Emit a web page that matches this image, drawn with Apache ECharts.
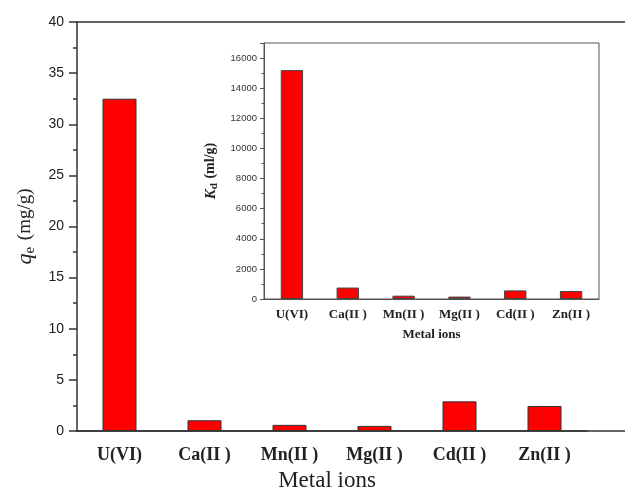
<!DOCTYPE html>
<html>
<head>
<meta charset="utf-8">
<script src="https://cdn.jsdelivr.net/npm/echarts@6/dist/echarts.min.js"></script>
<style>html,body{margin:0;padding:0;background:#fff;}#c{width:625px;height:495px;}</style>
</head>
<body>
<div id="c"></div>
<script>
const categories = ['U(VI)', 'Ca(II )', 'Mn(II )', 'Mg(II )', 'Cd(II )', 'Zn(II )'];
const qeValues = [32.5, 1.05, 0.6, 0.5, 2.9, 2.45];
const kdValues = [15200, 760, 220, 160, 570, 530];
const qeTicks = { min: 0, max: 40, interval: 5 };
const kdTicks = { min: 0, max: 17000, interval: 2000 };

const serif = 'Liberation Serif';
const sans = 'Liberation Sans';
const frameLine = { show: true, onZero: false, lineStyle: { color: '#333', width: 1.5 } };
const chart = echarts.init(document.getElementById('c'), null, { renderer: 'canvas' });
chart.setOption({
  animation: false,
  backgroundColor: '#fff',
  title: {
    text: 'Metal ions',
    left: 322, top: 476, textAlign: 'center', textVerticalAlign: 'middle',
    textStyle: { fontFamily: serif, fontWeight: 'normal', fontSize: 23, color: '#222' }
  },
  grid: [
    { left: 77, top: 22, right: 38, bottom: 64, show: false },
    { left: 264, top: 43, right: 26, bottom: 196, show: true, borderColor: '#555', borderWidth: 1 },
    { left: 77, top: 22, right: 0, bottom: 64, show: false }
  ],
  xAxis: [
    {
      type: 'category', gridIndex: 0, data: categories,
      axisLine: { lineStyle: { color: '#333', width: 1.5 } },
      axisTick: { alignWithLabel: true, length: 7, lineStyle: { color: '#333', width: 1.5 } },
      axisLabel: { fontFamily: serif, fontWeight: 'bold', fontSize: 18, color: '#222', margin: 15 },
      splitLine: { show: false }
    },
    {
      type: 'category', gridIndex: 1, data: categories,
      name: 'Metal ions', nameLocation: 'middle', nameGap: 29,
      nameTextStyle: { fontFamily: serif, fontWeight: 'bold', fontSize: 13, color: '#222' },
      axisLine: { lineStyle: { color: '#555', width: 1 } },
      axisTick: { alignWithLabel: true, length: 4, lineStyle: { color: '#555' } },
      axisLabel: { fontFamily: serif, fontWeight: 'bold', fontSize: 13, color: '#222', margin: 9 },
      splitLine: { show: false }
    },
    { type: 'value', gridIndex: 2, position: 'top', axisLine: frameLine, axisTick: { show: false }, axisLabel: { show: false }, splitLine: { show: false } },
    { type: 'value', gridIndex: 2, position: 'bottom', axisLine: frameLine, axisTick: { show: false }, axisLabel: { show: false }, splitLine: { show: false } }
  ],
  yAxis: [
    {
      type: 'value', gridIndex: 0, min: qeTicks.min, max: qeTicks.max, interval: qeTicks.interval,
      name: '{q|q}{e|e} (mg/g)', nameLocation: 'middle', nameRotate: 90, nameGap: 30,
      nameTextStyle: { fontFamily: serif, fontSize: 19, color: '#222',
        rich: {
          q: { fontFamily: serif, fontStyle: 'italic', fontSize: 22, color: '#222' },
          e: { fontFamily: serif, fontSize: 15, color: '#222', padding: [10, 2, 0, 0] }
        } },
      axisLine: { show: true, lineStyle: { color: '#333', width: 1.5 } },
      axisTick: { show: true, length: 8, lineStyle: { color: '#333', width: 1.5 } },
      minorTick: { show: true, splitNumber: 2, length: 4, lineStyle: { color: '#333', width: 1.5 } },
      axisLabel: { fontFamily: sans, fontSize: 14, color: '#222', margin: 13 },
      splitLine: { show: false }
    },
    {
      type: 'value', gridIndex: 1, min: kdTicks.min, max: kdTicks.max, interval: kdTicks.interval,
      name: '{k|K}{d|d} (ml/g)', nameLocation: 'middle', nameRotate: 90, nameGap: 38,
      nameTextStyle: { fontFamily: serif, fontWeight: 'bold', fontSize: 14, color: '#222',
        rich: {
          k: { fontFamily: serif, fontStyle: 'italic', fontWeight: 'bold', fontSize: 15, color: '#222' },
          d: { fontFamily: serif, fontWeight: 'bold', fontSize: 11, color: '#222', padding: [7, 1, 0, 0] }
        } },
      axisLine: { show: true, lineStyle: { color: '#555', width: 1 } },
      axisTick: { show: true, length: 4, lineStyle: { color: '#555' } },
      minorTick: { show: true, splitNumber: 2, length: 2.5, lineStyle: { color: '#555' } },
      axisLabel: { fontFamily: sans, fontSize: 9.5, color: '#333', margin: 7, showMaxLabel: false,
        formatter: v => String(v) },
      splitLine: { show: false }
    },
    { type: 'value', gridIndex: 2, show: false }
  ],
  series: [
    {
      type: 'bar', xAxisIndex: 0, yAxisIndex: 0, data: qeValues, barWidth: '40%',
      itemStyle: { color: '#ff0000', borderColor: '#333', borderWidth: 1 }
    },
    {
      type: 'bar', xAxisIndex: 1, yAxisIndex: 1, data: kdValues, barWidth: '40%',
      itemStyle: { color: '#ff0000', borderColor: '#444', borderWidth: 1 }
    }
  ]
});
</script>
</body>
</html>
